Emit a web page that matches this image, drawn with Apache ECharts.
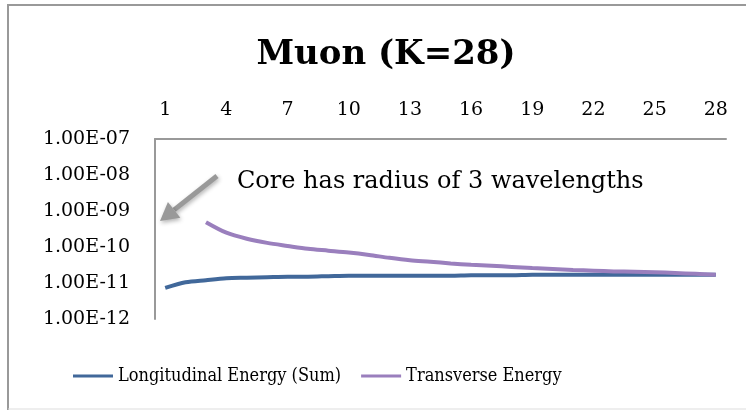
<!DOCTYPE html>
<html>
<head>
<meta charset="utf-8">
<script src="https://cdn.jsdelivr.net/npm/echarts@6/dist/echarts.min.js"></script>
<style>
  html, body { margin: 0; padding: 0; background: #fff; }
  #chart { width: 746px; height: 410px; }
</style>
</head>
<body>
<div id="chart"></div>
<script>
// wavelength index 1..28
const categories = ['1', '2', '3', '4', '5', '6', '7', '8', '9', '10', '11', '12', '13', '14',
    '15', '16', '17', '18', '19', '20', '21', '22', '23', '24', '25', '26', '27', '28']

const longitudinal = [7.3e-12, 1.05e-11, 1.2e-11, 1.35e-11, 1.4e-11, 1.45e-11, 1.5e-11, 1.5e-11,
    1.55e-11, 1.6e-11, 1.6e-11, 1.6e-11, 1.6e-11, 1.6e-11, 1.6e-11, 1.65e-11, 1.65e-11, 1.65e-11,
    1.7e-11, 1.7e-11, 1.7e-11, 1.7e-11, 1.7e-11, 1.7e-11, 1.7e-11, 1.7e-11, 1.7e-11, 1.7e-11]

// core has radius of 3, so nothing before index 3
const transverse = [null, null, 4.9e-10, 2.5e-10, 1.7e-10, 1.3e-10, 1.07e-10, 8.9e-11, 7.9e-11,
    7.0e-11, 6.0e-11, 5.0e-11, 4.3e-11, 3.9e-11, 3.5e-11, 3.2e-11, 3.0e-11, 2.8e-11, 2.6e-11,
    2.45e-11, 2.3e-11, 2.2e-11, 2.1e-11, 2.05e-11, 2.0e-11, 1.9e-11, 1.8e-11, 1.7e-11]

const serif = '"DejaVu Serif", serif'
const serifNarrow = '"DejaVu Serif Condensed", "DejaVu Serif", serif'

// label like Excel: 1.00E-07
let sci = (v) => {
    let e = Math.round(Math.log10(v))
    let s = Math.abs(e) < 10 ? '0' + Math.abs(e) : '' + Math.abs(e)
    return '1.00E' + (e < 0 ? '-' : '+') + s
}

// arrow pointing at the core
let tip = [160, 221], from = [217, 176]
let dx = tip[0] - from[0], dy = tip[1] - from[1]
let len = Math.sqrt(dx * dx + dy * dy)
let ux = dx / len, uy = dy / len
let base = [tip[0] - 18 * ux, tip[1] - 18 * uy]
let nx = -uy, ny = ux

let chart = echarts.init(document.getElementById('chart'))

chart.setOption({
    animation: false,
    title: {
        text: 'Muon (K=28)',
        left: 381,
        textAlign: 'center',
        top: 33,
        textStyle: {fontFamily: serif, fontWeight: 'bold', fontSize: 34, color: '#000'}
    },
    legend: {
        left: 68,
        top: 362,
        itemWidth: 40,
        itemHeight: 3,
        itemGap: 20,
        icon: 'rect',
        textStyle: {fontFamily: serifNarrow, fontSize: 18, color: '#000'},
        data: ['Longitudinal Energy (Sum)', 'Transverse Energy']
    },
    grid: {left: 155, top: 139, right: 20, bottom: 91, containLabel: false},
    xAxis: {
        type: 'category',
        position: 'top',
        data: categories,
        boundaryGap: true,
        axisLine: {lineStyle: {color: '#999', width: 2}},
        axisTick: {show: false},
        axisLabel: {interval: 2, margin: 19, fontFamily: serif, fontSize: 19, color: '#000'}
    },
    yAxis: {
        type: 'log',
        min: 1e-12,
        max: 1e-7,
        logBase: 10,
        axisLine: {show: true, lineStyle: {color: '#999', width: 2}},
        axisTick: {show: false},
        splitLine: {show: false},
        axisLabel: {margin: 25, fontFamily: serif, fontSize: 19, color: '#000', formatter: sci}
    },
    series: [
        {
            name: 'Longitudinal Energy (Sum)',
            type: 'line',
            data: longitudinal,
            smooth: 0.3,
            showSymbol: false,
            lineStyle: {color: '#41689a', width: 4},
            itemStyle: {color: '#41689a'}
        },
        {
            name: 'Transverse Energy',
            type: 'line',
            data: transverse,
            smooth: 0.3,
            showSymbol: false,
            lineStyle: {color: '#9a7fbd', width: 4},
            itemStyle: {color: '#9a7fbd'}
        }
    ],
    graphic: [
        // outer frame: left + top darker, bottom faint
        {type: 'polyline', shape: {points: [[8, 410], [8, 5], [746, 5]]}, style: {stroke: '#999', lineWidth: 2, fill: 'none'}, silent: true},
        {type: 'line', shape: {x1: 8, y1: 409, x2: 746, y2: 409}, style: {stroke: '#ddd', lineWidth: 1}, silent: true},
        {
            type: 'text',
            x: 237,
            y: 182,
            style: {
                text: 'Core has radius of 3 wavelengths',
                font: '24px "DejaVu Serif", serif',
                fill: '#000',
                textVerticalAlign: 'middle'
            }
        },
        {
            type: 'line',
            shape: {x1: from[0], y1: from[1], x2: base[0], y2: base[1]},
            style: {stroke: '#999', lineWidth: 5, shadowBlur: 4, shadowColor: 'rgba(0,0,0,0.3)', shadowOffsetX: 1, shadowOffsetY: 2}
        },
        {
            type: 'polygon',
            shape: {points: [tip, [base[0] + 10 * nx, base[1] + 10 * ny], [base[0] - 10 * nx, base[1] - 10 * ny]]},
            style: {fill: '#999', shadowBlur: 4, shadowColor: 'rgba(0,0,0,0.3)', shadowOffsetX: 1, shadowOffsetY: 2}
        }
    ]
})
</script>
</body>
</html>
